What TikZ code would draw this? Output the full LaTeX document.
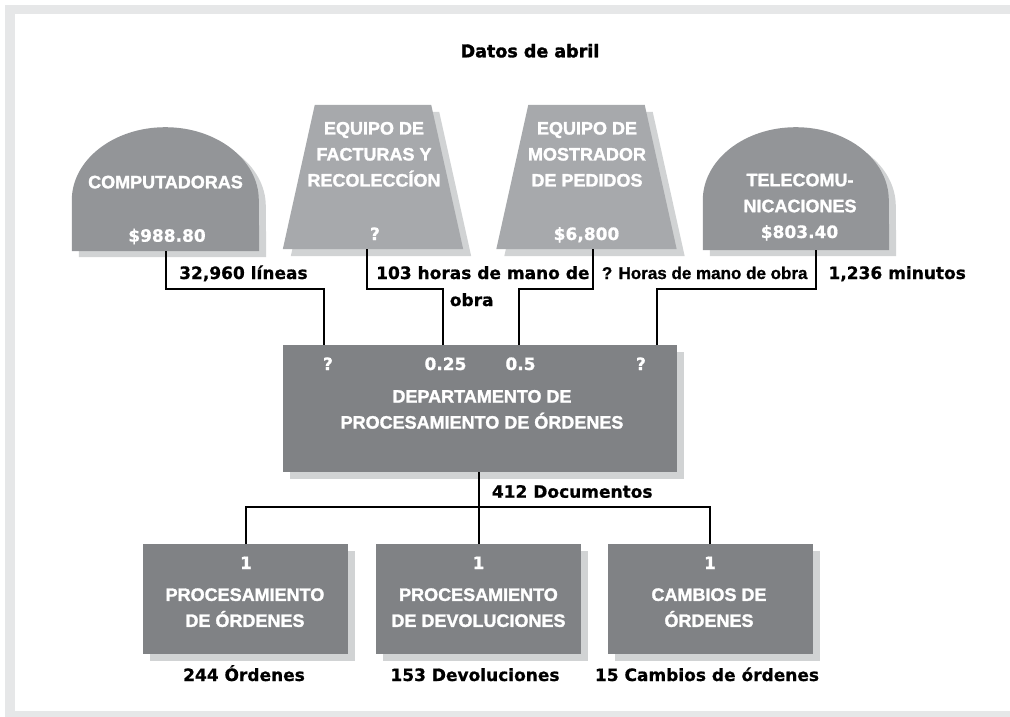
\documentclass[tikz,border=0pt]{standalone}
\usepackage{fontspec}
\setmainfont{Liberation Sans}
\newfontfamily\namefont[FakeBold=1.6]{Liberation Sans Bold}
\newfontfamily\labelfont[FakeBold=0.8]{DejaVu Sans Bold}
\newfontfamily\titlefont[FakeBold=1.8]{DejaVu Sans Bold}
\newfontfamily\smallfont[FakeBold=1]{Liberation Sans Bold}
\usepackage{xcolor}
\usepackage{tikz}
\usetikzlibrary{shadows}

\definecolor{framegray}{RGB}{230,231,232}
\definecolor{shadowgray}{RGB}{209,211,212}
\definecolor{domegray}{RGB}{147,149,152}
\definecolor{trapgray}{RGB}{167,169,172}
\definecolor{boxgray}{RGB}{128,130,133}

\begin{document}
\begin{tikzpicture}[
        x=1pt, y=-1pt,
        every node/.style={inner sep=0pt},
        box/.style={
            rectangle,
            fill=boxgray,
            minimum width=205pt,
            minimum height=110pt,
            drop shadow={shadow xshift=7pt, shadow yshift=-7pt, fill=shadowgray, opacity=1}
        },
        boxtext/.style={
            text=white,
            align=center,
            font=\namefont\fontsize{18}{26}\selectfont
        },
        numtext/.style={
            text=white,
            anchor=base,
            font=\labelfont\fontsize{17}{20}\selectfont
        },
        lbl/.style={
            anchor=base,
            font=\labelfont\fontsize{17}{20}\selectfont
        },
        link/.style={
            line width=2pt,
            draw=black
        }
    ]
        \useasboundingbox (0,0) rectangle (1010,717);
        % Frame
        \fill[framegray] (5,5) rectangle (1010,717);
        \fill[white] (15,14) rectangle (1010,711);

        % Cost pools (outlines only)
        \node[minimum width=187pt, minimum height=124pt] (comp) at (165.5,189) {};
        \node[minimum width=180pt, minimum height=144pt] (fact) at (373,177) {};
        \node[minimum width=180pt, minimum height=144pt] (most) at (586.5,177) {};
        \node[minimum width=186pt, minimum height=123pt] (tele) at (796,188.5) {};

        % Shadows
        \begin{scope}[transform canvas={shift={(7pt,-6pt)}}]
            \fill[shadowgray] (comp.south west) -- ++(0,-51) arc[start angle=180, end angle=0, x radius=93.5pt, y radius=73pt] -- (comp.south east) -- cycle;
            \fill[shadowgray] (tele.south west) -- ++(0,-50) arc[start angle=180, end angle=0, x radius=93pt, y radius=73pt] -- (tele.south east) -- cycle;
        \end{scope}
        \begin{scope}[transform canvas={shift={(8pt,-7pt)}}]
            \fill[shadowgray] (fact.south west) -- ([xshift=32pt]fact.north west) -- ([xshift=-32pt]fact.north east) -- (fact.south east) -- cycle;
            \fill[shadowgray] (most.south west) -- ([xshift=32pt]most.north west) -- ([xshift=-32pt]most.north east) -- (most.south east) -- cycle;
        \end{scope}

        % Shapes
        \fill[domegray] (comp.south west) -- ++(0,-51) arc[start angle=180, end angle=0, x radius=93.5pt, y radius=73pt] -- (comp.south east) -- cycle;
        \fill[domegray] (tele.south west) -- ++(0,-50) arc[start angle=180, end angle=0, x radius=93pt, y radius=73pt] -- (tele.south east) -- cycle;
        \fill[trapgray] (fact.south west) -- ([xshift=32pt]fact.north west) -- ([xshift=-32pt]fact.north east) -- (fact.south east) -- cycle;
        \fill[trapgray] (most.south west) -- ([xshift=32pt]most.north west) -- ([xshift=-32pt]most.north east) -- (most.south east) -- cycle;

        % Activity boxes
        \node[box, minimum width=394pt, minimum height=127pt] (dept) at (480,408.5) {};
        \node[box] (sub1) at (245.5,599) {};
        \node[box] (sub2) at (478.5,599) {};
        \node[box] (sub3) at (710,599) {};

        \coordinate (in1) at (324,345);
        \coordinate (in2) at (443,345);
        \coordinate (in3) at (519,345);
        \coordinate (in4) at (657,345);

        % Drivers
        \draw[link] (comp.south) -- ++(0,38) -| (in1);
        \draw[link] ([xshift=-6pt]fact.south) -- ++(0,40) -| (in2);
        \draw[link] ([xshift=6pt]most.south) -- ++(0,40) -| (in3);
        \draw[link] ([xshift=20pt]tele.south) -- ++(0,39) -| (in4);
        \draw[link] (dept.south -| sub2.north) -- (sub2.north);
        \draw[link] (sub1.north) -- ++(0,-37) -| (sub3.north);

        % Texts
        \node[lbl, font=\titlefont\fontsize{17.5}{20}\selectfont] (title) at (530,57.3) {Datos de abril};

        \node[boxtext, anchor=base] (compname) at (165.5,188.3) {COMPUTADORAS};
        \node[numtext] (compcost) at (167,241.7) {\$988.80};
        \node[boxtext] (factname) at (374,154.3) {EQUIPO DE\\FACTURAS Y\\RECOLECCÍON};
        \node[numtext] (factcost) at (375,240) {?};
        \node[boxtext] (mostname) at (587,154.3) {EQUIPO DE\\MOSTRADOR\\DE PEDIDOS};
        \node[numtext] (mostcost) at (586.5,240) {\$6,800};
        \node[boxtext] (telename) at (800,193) {TELECOMU-\\NICACIONES};
        \node[numtext] (telecost) at (799.5,238) {\$803.40};

        \node[lbl, anchor=base west] (drv1) at (179,279) {32,960 líneas};
        \node[lbl, anchor=base west] (drv2) at (376,279) {103 horas de mano de};
        \node[lbl] (drv2b) at (471.7,306) {obra};
        \node[lbl, anchor=base west, font=\smallfont\fontsize{17}{20}\selectfont] (drv3) at (601.7,279) {? Horas de mano de obra};
        \node[lbl, anchor=base west] (drv4) at (828.3,279) {1,236 minutos};

        \node[numtext] (rate1) at (328,370) {?};
        \node[numtext] (rate2) at (445.5,370) {0.25};
        \node[numtext] (rate3) at (520.5,370) {0.5};
        \node[numtext] (rate4) at (641,370) {?};
        \node[boxtext] (deptname) at (482,409.4) {DEPARTAMENTO DE\\PROCESAMIENTO DE ÓRDENES};

        \node[lbl, anchor=base west] (docs) at (491.7,497.7) {412 Documentos};

        \node[numtext] (one1) at (246,569) {1};
        \node[numtext] (one2) at (478.5,569) {1};
        \node[numtext] (one3) at (710,569) {1};
        \node[boxtext] (sub1name) at (245,607.7) {PROCESAMIENTO\\DE ÓRDENES};
        \node[boxtext] (sub2name) at (478.5,607.7) {PROCESAMIENTO\\DE DEVOLUCIONES};
        \node[boxtext] (sub3name) at (709,607.7) {CAMBIOS DE\\ÓRDENES};

        \node[lbl] (out1) at (244,681) {244 Órdenes};
        \node[lbl] (out2) at (475,681) {153 Devoluciones};
        \node[lbl] (out3) at (707,681) {15 Cambios de órdenes};
    \end{tikzpicture}
\end{document}
